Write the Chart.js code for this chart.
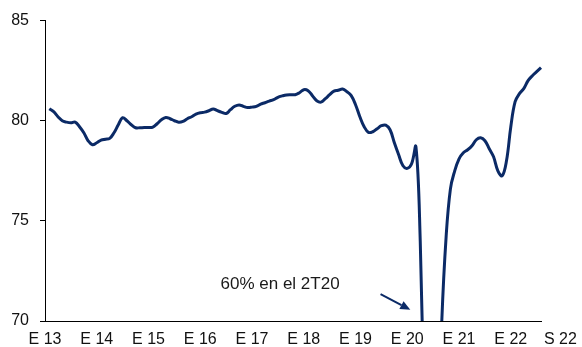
<!DOCTYPE html>
<html>
<head>
<meta charset="utf-8">
<script src="https://cdn.jsdelivr.net/npm/chart.js@4/dist/chart.umd.min.js"></script>
<style>
  html, body { margin: 0; padding: 0; background: #ffffff; }
  #wrap { width: 582px; height: 347px; }
</style>
</head>
<body>
<div id="wrap"><canvas id="c" width="582" height="347"></canvas></div>
<script>
// Monthly series, January 2013 to August 2022 (first month has no value)
const months = [];
for (let y = 2013; y <= 2022; y++) {
  for (let m = 1; m <= 12; m++) {
    if (y === 2022 && m > 8) break;
    months.push(y + '-' + String(m).padStart(2, '0'));
  }
}

const values = [
  null, 80.6, 80.45, 80.2, 80.0, 79.93, 79.9, 79.93, 79.7, 79.4, 79.0, 78.8,      // 2013
  78.9, 79.03, 79.08, 79.12, 79.4, 79.8, 80.15, 80.0, 79.8, 79.65, 79.65, 79.66,  // 2014
  79.66, 79.68, 79.85, 80.05, 80.16, 80.1, 80.0, 79.93, 79.97, 80.1, 80.2, 80.33, // 2015
  80.4, 80.43, 80.5, 80.59, 80.5, 80.42, 80.36, 80.55, 80.72, 80.79, 80.72, 80.66, // 2016
  80.68, 80.72, 80.83, 80.9, 80.98, 81.05, 81.17, 81.24, 81.29, 81.3, 81.3, 81.4,  // 2017
  81.55, 81.5, 81.25, 81.0, 80.93, 81.1, 81.3, 81.48, 81.52, 81.58, 81.45, 81.25,  // 2018
  80.8, 80.2, 79.7, 79.42, 79.45, 79.6, 79.75, 79.78, 79.55, 78.9, 78.3, 77.75,    // 2019
  77.62, 77.85, 78.7, 74.0, 65.0, 60.0, 60.5, 63.0, 70.0, 74.2, 76.6, 77.5,       // 2020
  78.1, 78.4, 78.55, 78.75, 79.05, 79.15, 79.0, 78.6, 78.2, 77.5, 77.25, 78.0,    // 2021
  79.7, 80.95, 81.35, 81.6, 82.0, 82.25, 82.45, 82.65                              // 2022
];

const points = values.map((v, i) => ({ x: i, y: v }));

// Axis labels
const yearTicks = [0, 12, 24, 36, 48, 60, 72, 84, 96, 108];
const yearLabels = ['E 13', 'E 14', 'E 15', 'E 16', 'E 17', 'E 18', 'E 19', 'E 20', 'E 21', 'E 22'];
const endLabel = 'S 22';
const endLabelPos = 119.5;

// Callout text and arrow (in axis units)
const noteText = '60% en el 2T20';
const notePos = { x: 54.5, y: 71.82 };
const arrowFrom = { x: 77.8, y: 71.34 };
const arrowTo = { x: 84.7, y: 70.56 };

const NAVY = '#0b2a66';
const FONT = "'Liberation Sans', Arial, sans-serif";

const extras = {
  id: 'extras',
  afterDraw(chart) {
    const { ctx, scales: { x, y } } = chart;
    ctx.save();
    // last period label beside the axis
    ctx.font = '16px ' + FONT;
    ctx.fillStyle = '#111111';
    ctx.textAlign = 'center';
    ctx.textBaseline = 'middle';
    ctx.fillText(endLabel, x.getPixelForValue(endLabelPos), 340);

    // callout
    ctx.font = '17px ' + FONT;
    ctx.fillStyle = '#1a1a1a';
    ctx.fillText(noteText, x.getPixelForValue(notePos.x), y.getPixelForValue(notePos.y));

    const x1 = x.getPixelForValue(arrowFrom.x), y1 = y.getPixelForValue(arrowFrom.y);
    const x2 = x.getPixelForValue(arrowTo.x), y2 = y.getPixelForValue(arrowTo.y);
    const ang = Math.atan2(y2 - y1, x2 - x1);
    const head = 10, half = 4.5;
    const bx = x2 - head * Math.cos(ang), by = y2 - head * Math.sin(ang);
    ctx.strokeStyle = NAVY;
    ctx.lineWidth = 2;
    ctx.beginPath();
    ctx.moveTo(x1, y1);
    ctx.lineTo(bx, by);
    ctx.stroke();
    ctx.fillStyle = NAVY;
    ctx.beginPath();
    ctx.moveTo(x2, y2);
    ctx.lineTo(bx - half * Math.sin(ang), by + half * Math.cos(ang));
    ctx.lineTo(bx + half * Math.sin(ang), by - half * Math.cos(ang));
    ctx.closePath();
    ctx.fill();
    ctx.restore();
  }
};

new Chart(document.getElementById('c'), {
  type: 'line',
  data: {
    datasets: [{
      data: points,
      borderColor: NAVY,
      borderWidth: 3,
      pointRadius: 0,
      tension: 0.4,
      fill: false,
      spanGaps: false,
      clip: { left: 5, right: 5, top: 5, bottom: 0 }
    }]
  },
  options: {
    responsive: false,
    animation: false,
    devicePixelRatio: 1,
    layout: { padding: { left: 0, right: 41, top: 18, bottom: 0 } },
    plugins: { legend: { display: false }, tooltip: { enabled: false } },
    scales: {
      x: {
        type: 'linear',
        min: 0,
        max: 115,
        afterBuildTicks(scale) { scale.ticks = yearTicks.map(v => ({ value: v })); },
        afterFit(scale) { scale.height = 26; },
        ticks: {
          autoSkip: false,
          maxRotation: 0,
          padding: 9,
          color: '#111111',
          font: { family: FONT, size: 16 },
          callback(v) { const k = yearTicks.indexOf(v); return k >= 0 ? yearLabels[k] : ''; }
        },
        grid: { display: true, drawOnChartArea: false, drawTicks: false },
        border: { display: true, color: '#000000', width: 1 }
      },
      y: {
        min: 70,
        max: 85,
        afterFit(scale) { scale.width = 45; },
        ticks: {
          stepSize: 5,
          padding: 11,
          color: '#111111',
          font: { family: FONT, size: 16 }
        },
        grid: { display: true, drawOnChartArea: false, drawTicks: true, tickLength: 5, color: '#000000' },
        border: { display: true, color: '#000000', width: 1 }
      }
    }
  },
  plugins: [extras]
});
</script>
</body>
</html>
